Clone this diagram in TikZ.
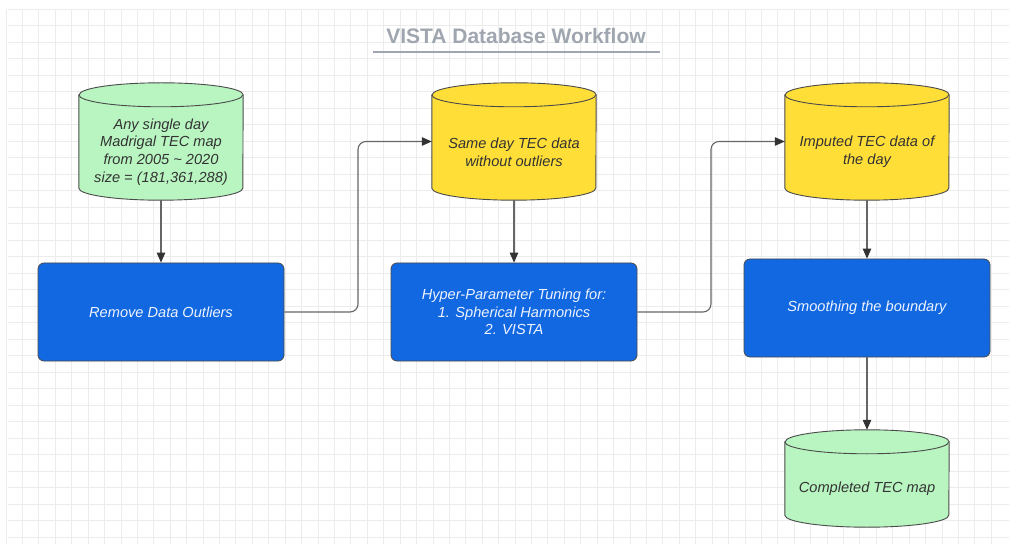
\documentclass[tikz,border=0pt]{standalone}
\usepackage{fontspec}
\setmainfont{Liberation Sans}
\usetikzlibrary{calc,arrows.meta,backgrounds}

\definecolor{gridc}{HTML}{ECECEC}
\definecolor{titlec}{HTML}{A0A6B0}
\definecolor{mint}{HTML}{B9F5C1}
\definecolor{sun}{HTML}{FFDE38}
\definecolor{royal}{HTML}{1168E0}
\definecolor{edge}{HTML}{4A4A4A}
\definecolor{wire}{HTML}{666666}
\definecolor{ink}{HTML}{333333}
\definecolor{boxtext}{HTML}{EEF3FF}

\pgfdeclarelayer{paper}
\pgfsetlayers{paper,background,main}

\tikzset{
  drumbody/.style={draw=none, rectangle, minimum width=164pt, inner sep=0pt},
  drumline/.style={draw=edge, line width=0.9pt},
  drumtext/.style={text=ink, align=center, font=\itshape\fontsize{14.6pt}{17.7pt}\selectfont},
  task/.style={rectangle, rounded corners=6pt, draw=edge, line width=0.8pt, fill=royal,
    minimum width=246pt, minimum height=98pt, text=boxtext, align=center,
    font=\itshape\fontsize{14.6pt}{17.7pt}\selectfont},
  conn/.style={draw=wire, line width=1.1pt, rounded corners=8pt,
    -{Triangle[length=10pt,width=8.5pt,fill=ink,color=ink]}},
}

% database drum: name, x, y, height, fill colour, text
\newcommand\drum[6]{%
  \node[drumbody, minimum height=#4] (#1) at (#2,#3) {};
  \begin{scope}[on background layer]
    \filldraw[drumline, fill=#5]
      ($(#1.north west)+(0,-12)$) -- ($(#1.south west)+(0,12)$)
      arc[start angle=180, end angle=360, x radius=82, y radius=12]
      -- ($(#1.north east)+(0,-12)$)
      arc[start angle=0, end angle=180, x radius=82, y radius=12] -- cycle;
    \draw[drumline] ($(#1.north west)+(0,-12)$)
      arc[start angle=180, end angle=360, x radius=82, y radius=12];
  \end{scope}
  \node[drumtext] (#1-label) at ($(#1)+(0,-10.5)$) {#6};
}

\begin{document}
\begin{tikzpicture}[x=1pt, y=1pt]
  \useasboundingbox (0,0) rectangle (1009,544);
  \begin{pgfonlayer}{paper}
    \fill[white] (0,0) rectangle (1009,544);
    \foreach \k in {0,...,60} {
      \draw[gridc, line width=0.8pt] ({6+16.42*\k},0) -- ({6+16.42*\k},535);
    }
    \foreach \k in {0,...,32} {
      \draw[gridc, line width=0.8pt] (8,{535-16.5*\k}) -- (1009,{535-16.5*\k});
    }
  \end{pgfonlayer}

  % heading
  \node[text=titlec, font=\bfseries\fontsize{21pt}{25pt}\selectfont] (title) at (516,508.5)
    {VISTA Database Workflow};
  \draw[titlec, line width=2pt] (373,491.5) -- (660,491.5);

  % data stores
  \drum{c1}{161}{402.5}{117}{mint}{Any single day\\Madrigal TEC map\\from 2005 \textasciitilde{} 2020\\size = (181,361,288)}
  \drum{c2}{514}{402.5}{117}{sun}{Same day TEC data\\without outliers}
  \drum{c3}{867}{402.5}{117}{sun}{Imputed TEC data of\\the day}
  \drum{c4}{867}{65.5}{97}{mint}{Completed TEC map}

  % processing steps
  \node[task] (b1) at (161,232) {Remove Data Outliers};
  \node[task] (b2) at (514,232) {Hyper-Parameter Tuning for:\\1. Spherical Harmonics\\2. VISTA};
  \node[task] (b3) at (867,236) {Smoothing the boundary};

  % bends of the elbow connectors
  \coordinate (k1) at (358,402.5);
  \coordinate (k2) at (711,402.5);

  % flow
  \draw[conn] (c1.south) -- (b1.north);
  \draw[conn] (b1.east) -| (k1) -- (c2.west);
  \draw[conn] (c2.south) -- (b2.north);
  \draw[conn] (b2.east) -| (k2) -- (c3.west);
  \draw[conn] (c3.south) -- (b3.north);
  \draw[conn] (b3.south) -- (c4.north);
\end{tikzpicture}
\end{document}
